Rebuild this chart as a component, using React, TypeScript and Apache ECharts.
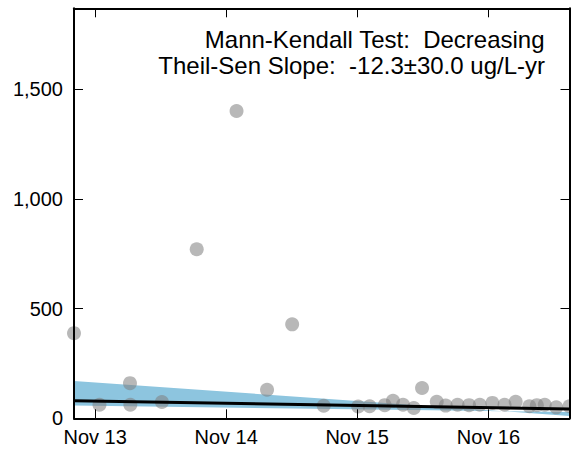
import React, { useEffect, useRef } from "react";
import * as echarts from "echarts";

// Sample dates and concentrations (ug/L)
const sampleDates = [
  "2013-09-03", "2013-11-13", "2014-02-06", "2014-02-07", "2014-05-06",
  "2014-08-11", "2014-11-30", "2015-02-23", "2015-05-04", "2015-07-31",
  "2015-11-04", "2015-12-06", "2016-01-17", "2016-02-09", "2016-03-08",
  "2016-04-07", "2016-04-30", "2016-06-10", "2016-07-05", "2016-08-07",
  "2016-09-08", "2016-10-08", "2016-11-12", "2016-12-16", "2017-01-16",
  "2017-02-23", "2017-03-16", "2017-04-07", "2017-05-09", "2017-06-15",
];
const concentrations = [
  388, 62, 160, 62, 74,
  770, 1400, 130, 428, 57,
  54, 55, 60, 80, 62,
  47, 138, 75, 58, 62,
  60, 62, 70, 62, 75,
  55, 60, 62, 50, 55,
];

const axisStart = "2013-09-03";
const axisEnd = "2017-06-15";
const xTickDates = ["2013-11-01", "2014-11-01", "2015-11-01", "2016-11-01"];
const xTickLabels = ["Nov 13", "Nov 14", "Nov 15", "Nov 16"];
const yTicks = [0, 500, 1000, 1500];
const yMax = 1868;

// Theil-Sen trend line and confidence band (value at axisStart, value at axisEnd)
const trendLine = [80, 42];
const bandUpper = [170, 11];
const bandLower = [58, 29];

const annotationLines = [
  "Mann-Kendall Test:  Decreasing",
  "Theil-Sen Slope:  -12.3±30.0 ug/L-yr",
];

const ts = (s: string) => new Date(s + "T00:00:00Z").getTime();
const FONT = "'Liberation Sans', Arial, Helvetica, sans-serif";

export default function App() {
  const ref = useRef<HTMLDivElement>(null);

  useEffect(() => {
    if (!ref.current) return;
    const chart = echarts.init(ref.current, undefined, { renderer: "svg" });
    const t0 = ts(axisStart);
    const t1 = ts(axisEnd);
    const xTicks = xTickDates.map(ts);

    const tickStyle = {
      inside: true,
      length: 9,
      lineStyle: { color: "#000", width: 1 },
    };
    const lineStyle = { show: true, onZero: false, lineStyle: { color: "#000", width: 2 } };

    chart.setOption({
      animation: false,
      backgroundColor: "#fff",
      grid: { left: 74, right: 1.5, top: 8.3, bottom: 32.7, containLabel: false },
      xAxis: [
        {
          type: "value",
          position: "bottom",
          min: t0,
          max: t1,
          z: 10,
          axisLine: lineStyle,
          axisTick: { ...tickStyle, customValues: xTicks },
          splitLine: { show: false },
          axisLabel: {
            customValues: xTicks,
            margin: 9,
            color: "#000",
            fontSize: 20,
            fontFamily: FONT,
            formatter: (v: number) => {
              const i = xTicks.indexOf(v);
              return i >= 0 ? xTickLabels[i] : "";
            },
          },
        },
        {
          type: "value",
          position: "top",
          min: t0,
          max: t1,
          z: 10,
          axisLine: lineStyle,
          axisTick: { ...tickStyle, customValues: xTicks },
          splitLine: { show: false },
          axisLabel: { show: false },
        },
      ],
      yAxis: [
        {
          type: "value",
          position: "left",
          min: 0,
          max: yMax,
          z: 10,
          axisLine: lineStyle,
          axisTick: { ...tickStyle, customValues: yTicks },
          splitLine: { show: false },
          axisLabel: {
            customValues: yTicks,
            margin: 11,
            color: "#000",
            fontSize: 20,
            fontFamily: FONT,
            formatter: (v: number) => v.toLocaleString("en-US"),
          },
        },
        {
          type: "value",
          position: "right",
          min: 0,
          max: yMax,
          z: 10,
          axisLine: lineStyle,
          axisTick: { ...tickStyle, customValues: yTicks },
          splitLine: { show: false },
          axisLabel: { show: false },
        },
      ],
      series: [
        {
          type: "custom",
          xAxisIndex: 0,
          yAxisIndex: 0,
          z: 1,
          silent: true,
          clip: true,
          data: [[t0, bandUpper[0]]],
          renderItem: (_p: any, api: any) => {
            const pts = [
              api.coord([t0, bandUpper[0]]),
              api.coord([t1, bandUpper[1]]),
              api.coord([t1, bandLower[1]]),
              api.coord([t0, bandLower[0]]),
            ];
            return {
              type: "polygon",
              shape: { points: pts },
              style: { fill: "#8dc5df" },
            };
          },
        },
        {
          type: "scatter",
          xAxisIndex: 0,
          yAxisIndex: 0,
          z: 2,
          clip: true,
          symbol: "circle",
          symbolSize: 14,
          itemStyle: { color: "rgba(128,128,128,0.7)" },
          data: sampleDates.map((d, i) => [ts(d), concentrations[i]]),
        },
        {
          type: "line",
          xAxisIndex: 0,
          yAxisIndex: 0,
          z: 3,
          symbol: "none",
          lineStyle: { color: "#000", width: 3 },
          data: [
            [t0, trendLine[0]],
            [t1, trendLine[1]],
          ],
        },
      ],
      graphic: annotationLines.map((t, i) => ({
        type: "text",
        right: 26,
        top: 27 + i * 26,
        z: 20,
        style: {
          text: t,
          fill: "#000",
          font: `24px ${FONT}`,
        },
      })),
    });

    return () => chart.dispose();
  }, []);

  return (
    <div
      ref={ref}
      style={{ position: "absolute", left: 0, top: 0, width: 571, height: 451 }}
    />
  );
}
